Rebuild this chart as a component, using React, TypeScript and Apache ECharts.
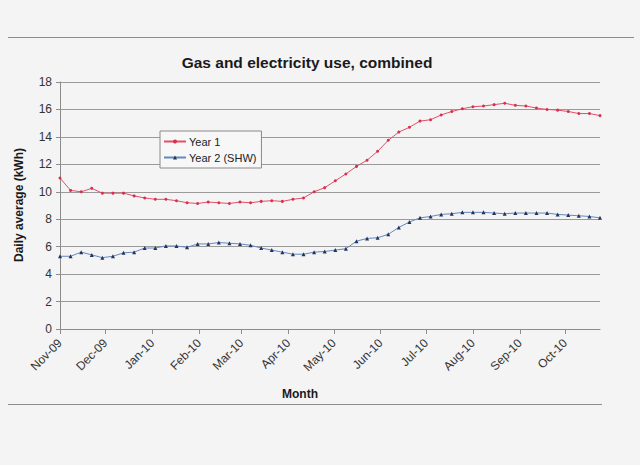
import React, { useEffect, useRef } from "react";
import * as echarts from "echarts";

const weeks: string[] = [
  "2009-11-01", "2009-11-08", "2009-11-15", "2009-11-22", "2009-11-29",
  "2009-12-06", "2009-12-13", "2009-12-20", "2009-12-27",
  "2010-01-03", "2010-01-10", "2010-01-17", "2010-01-24", "2010-01-31",
  "2010-02-07", "2010-02-14", "2010-02-21", "2010-02-28",
  "2010-03-07", "2010-03-14", "2010-03-21", "2010-03-28",
  "2010-04-04", "2010-04-11", "2010-04-18", "2010-04-25",
  "2010-05-02", "2010-05-09", "2010-05-16", "2010-05-23", "2010-05-30",
  "2010-06-06", "2010-06-13", "2010-06-20", "2010-06-27",
  "2010-07-04", "2010-07-11", "2010-07-18", "2010-07-25",
  "2010-08-01", "2010-08-08", "2010-08-15", "2010-08-22", "2010-08-29",
  "2010-09-05", "2010-09-12", "2010-09-19", "2010-09-26",
  "2010-10-03", "2010-10-10", "2010-10-17", "2010-10-24",
];

const year1: number[] = [
  11.0, 10.1, 10.0, 10.25, 9.9, 9.9, 9.9, 9.7, 9.55, 9.45, 9.45, 9.35, 9.2,
  9.15, 9.25, 9.2, 9.15, 9.25, 9.2, 9.3, 9.35, 9.3, 9.45, 9.55, 10.0, 10.3,
  10.8, 11.3, 11.85, 12.3, 12.95, 13.75, 14.35, 14.7, 15.15, 15.25, 15.6,
  15.85, 16.05, 16.2, 16.25, 16.35, 16.45, 16.3, 16.25, 16.1, 16.0, 15.95,
  15.85, 15.7, 15.7, 15.55,
];

const year2: number[] = [
  5.3, 5.3, 5.6, 5.4, 5.2, 5.3, 5.55, 5.6, 5.9, 5.9, 6.05, 6.05, 5.95, 6.2,
  6.2, 6.3, 6.25, 6.2, 6.1, 5.9, 5.75, 5.6, 5.45, 5.45, 5.6, 5.65, 5.75, 5.85,
  6.4, 6.6, 6.65, 6.9, 7.4, 7.8, 8.1, 8.2, 8.35, 8.4, 8.5, 8.5, 8.5, 8.45,
  8.4, 8.45, 8.45, 8.45, 8.45, 8.35, 8.3, 8.25, 8.2, 8.1,
];

const monthNames: string[] = [
  "Jan", "Feb", "Mar", "Apr", "May", "Jun", "Jul", "Aug", "Sep", "Oct", "Nov", "Dec",
];

const seriesNames: string[] = ["Year 1", "Year 2 (SHW)"];
const titleText = "Gas and electricity use, combined";
const yAxisTitle = "Daily average (kWh)";
const xAxisTitle = "Month";

const FONT = "'Liberation Sans', Arial, sans-serif";

export default function App() {
  const ref = useRef<HTMLDivElement>(null);

  useEffect(() => {
    document.body.style.margin = "0";
    if (!ref.current) return;
    const chart = echarts.init(ref.current, null, { renderer: "svg" });
    const d1 = weeks.map((w, i) => [w, year1[i]]);
    const d2 = weeks.map((w, i) => [w, year2[i]]);
    chart.setOption({
      animation: false,
      backgroundColor: "#f4f4f5",
      textStyle: { fontFamily: FONT },
      title: {
        text: titleText,
        left: 302,
        top: 49,
        textAlign: "center",
        textStyle: { fontFamily: FONT, fontSize: 15.5, fontWeight: "bold", color: "#1a1a1a" },
      },
      legend: {
        orient: "vertical",
        left: 160,
        top: 131,
        padding: [5, 5, 5, 3],
        itemGap: 5,
        itemWidth: 22,
        itemHeight: 5,
        borderColor: "#8a8a8a",
        borderWidth: 1,
        backgroundColor: "#f7f7f8",
        textStyle: { fontFamily: FONT, fontSize: 11, color: "#222", padding: [0, 0, 0, -2] },
        data: seriesNames,
      },
      graphic: [
        {
          type: "line",
          shape: { x1: 8, y1: 37.5, x2: 634, y2: 37.5 },
          style: { stroke: "#8c8c8c", lineWidth: 1 },
        },
        {
          type: "line",
          shape: { x1: 8, y1: 404.5, x2: 602, y2: 404.5 },
          style: { stroke: "#8c8c8c", lineWidth: 1 },
        },
        {
          type: "text",
          x: 19,
          y: 205,
          rotation: Math.PI / 2,
          style: {
            text: yAxisTitle,
            fontFamily: FONT,
            fontSize: 12,
            fontWeight: "bold",
            fill: "#1a1a1a",
            align: "center",
            verticalAlign: "middle",
          },
        },
        {
          type: "text",
          x: 300,
          y: 394,
          style: {
            text: xAxisTitle,
            fontFamily: FONT,
            fontSize: 12,
            fontWeight: "bold",
            fill: "#1a1a1a",
            align: "center",
            verticalAlign: "middle",
          },
        },
      ],
      grid: { left: 60, right: 40, top: 82, bottom: 136, containLabel: false },
      xAxis: {
        type: "time",
        min: weeks[0],
        max: weeks[weeks.length - 1],
        splitNumber: 12,
        minInterval: 28 * 86400000,
        axisLine: { lineStyle: { color: "#8c8c8c", width: 1 } },
        axisTick: { show: true, length: 5, lineStyle: { color: "#8c8c8c" } },
        splitLine: { show: false },
        axisLabel: {
          rotate: 45,
          fontSize: 12,
          color: "#333",
          fontFamily: FONT,
          margin: 12,
          showMaxLabel: false,
          formatter: (val: number) => {
            const d = new Date(val);
            const yy = String(d.getFullYear() % 100).padStart(2, "0");
            return monthNames[d.getMonth()] + "-" + yy;
          },
        },
      },
      yAxis: {
        type: "value",
        min: 0,
        max: 18,
        interval: 2,
        axisLine: { show: true, lineStyle: { color: "#8c8c8c", width: 1 } },
        axisTick: { show: true, length: 4, lineStyle: { color: "#8c8c8c" } },
        splitLine: { show: true, lineStyle: { color: "#9a9a9a", width: 1 } },
        axisLabel: { fontSize: 12, color: "#333", fontFamily: FONT, margin: 8 },
      },
      series: [
        {
          name: seriesNames[0],
          type: "line",
          data: d1,
          symbol: "circle",
          symbolSize: 3,
          lineStyle: { color: "#e0506a", width: 1 },
          itemStyle: { color: "#d8304c" },
        },
        {
          name: seriesNames[1],
          type: "line",
          data: d2,
          symbol: "triangle",
          symbolSize: 4,
          lineStyle: { color: "#6688bb", width: 1 },
          itemStyle: { color: "#22345e" },
        },
      ],
    });
    return () => chart.dispose();
  }, []);

  return (
    <div
      ref={ref}
      style={{ position: "absolute", left: 0, top: 0, width: 640, height: 465 }}
    />
  );
}
